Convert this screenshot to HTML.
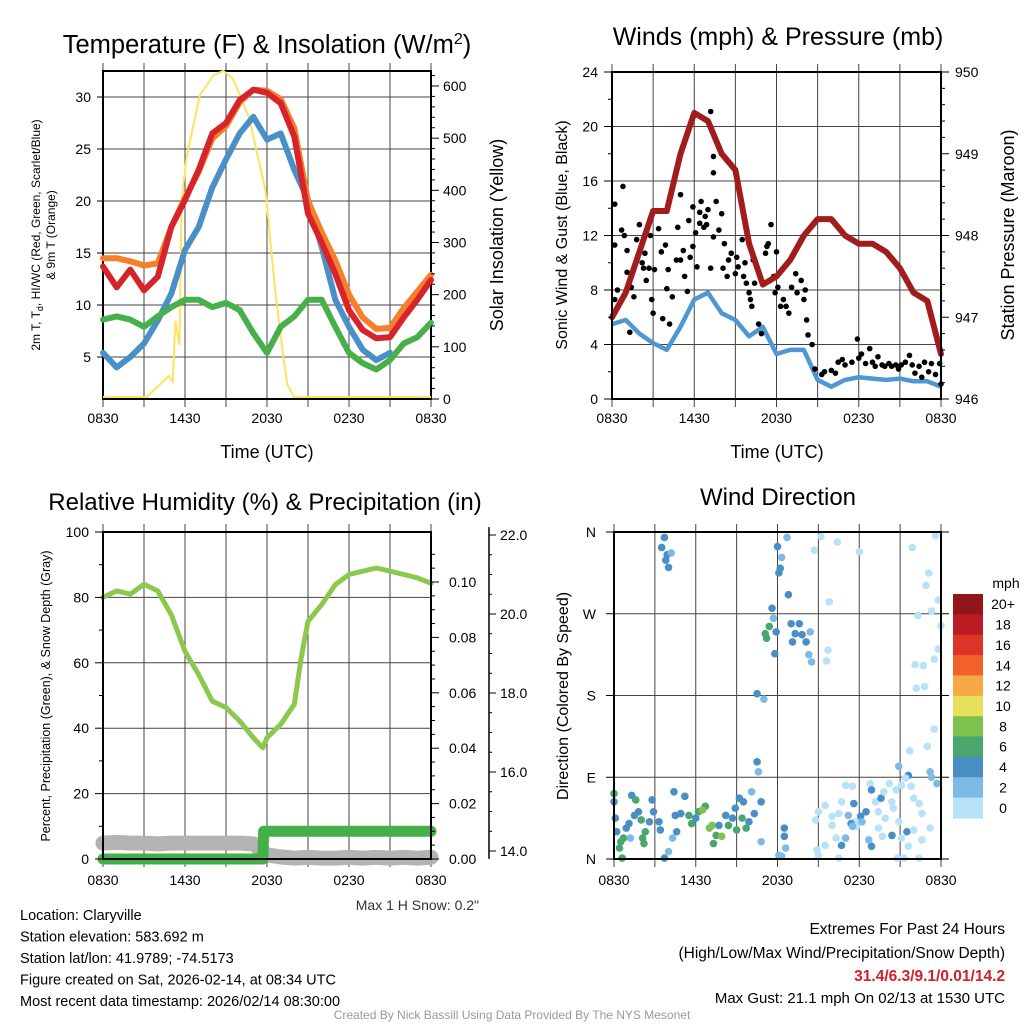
<!DOCTYPE html>
<html><head><meta charset="utf-8">
<style>
html,body{margin:0;padding:0;background:#fff;}
svg{display:block;font-family:"Liberation Sans",sans-serif;}
</style></head>
<body>
<svg id="c" width="1024" height="1024" viewBox="0 0 1024 1024" xmlns="http://www.w3.org/2000/svg"></svg>
<script>
// ---------- Panel 1: temperature & insolation (hourly from 0830 UTC) ----------
const hours = [0,1,2,3,4,5,6,7,8,9,10,11,12,13,14,15,16,17,18,19,20,21,22,23,24];
const timeTickLabels = ["0830","1430","2030","0230","0830"];
const timeTickHours = [0,6,12,18,24];
const temp9m = [14.5,14.5,14.2,13.8,14,17.5,20.3,22.8,26,27.2,29.5,30.7,30.6,29.8,27,20,17,14.3,11,8.8,7.7,7.8,9.7,11.3,12.9];
const temp2m = [13.7,11.7,13.4,11.4,12.7,17.5,20.1,23,26.5,27.5,29.7,30.7,30.4,29.4,26.2,18.8,16,13,9.5,7.6,6.8,6.9,8.8,10.5,12.4];
const windChill = [5.4,4,5,6.3,8.5,11.1,15.3,17.5,21.3,24,26.5,28.1,25.9,26.5,23,20.1,15.6,10.5,7.9,5.7,4.7,5.4];
const dewPoint = [8.6,8.9,8.6,7.9,8.9,9.8,10.5,10.5,9.8,10.2,9.5,7.3,5.4,7.9,8.9,10.5,10.5,7.9,5.4,4.4,3.8,4.7,6.3,6.9,8.3];
const solarHours = [0,3.2,4,4.8,5.1,5.3,5.6,5.75,6.1,7.1,8.1,8.8,9.5,10.7,11.9,12.6,13.2,13.5,14,24];
const solarVals = [0,0,20,40,30,146,100,376,458,579,617,625,611,535,395,203,75,23,0,0];
const tempTicks = [5,10,15,20,25,30];
const solarTicks = [0,100,200,300,400,500,600];
// ---------- Panel 2: winds & pressure ----------
const pressure = [947.0,947.3,947.8,948.3,948.3,949.0,949.5,949.4,949.0,948.8,947.9,947.4,947.5,947.7,948.0,948.2,948.2,948.0,947.9,947.9,947.8,947.6,947.3,947.2,946.55];
const sonicWind = [5.5,5.8,4.8,4.1,3.6,5.3,7.3,7.8,6.3,5.8,4.6,5.3,3.3,3.6,3.6,1.4,0.9,1.4,1.6,1.5,1.4,1.5,1.3,1.3,0.9];
const gustHours = [0.2,0.2,0.4,0.2,0.8,0.7,0.9,1.1,1.1,1.4,1.6,1.3,1.8,2.0,2.2,2.3,2.5,2.7,2.4,2.8,2.9,3.0,3.1,3.4,3.6,3.7,3.9,4.0,4.1,4.2,4.4,4.7,4.8,5.0,5.0,5.2,5.3,5.5,5.6,5.7,5.9,5.9,6.1,6.2,6.4,6.4,6.5,6.7,6.8,6.9,7.0,7.2,7.2,7.4,7.4,7.4,7.6,7.8,8.0,8.1,8.2,8.4,8.5,8.7,9.0,9.1,9.2,9.5,9.6,9.7,9.8,10.0,10.1,10.2,10.3,10.4,10.7,10.9,11.2,11.3,11.4,11.6,11.8,11.9,12.0,12.1,12.3,12.5,12.7,12.9,13.1,13.4,13.5,13.8,14.0,14.1,14.2,14.3,14.6,14.8,15.3,15.5,16.0,16.3,16.5,16.8,17.0,17.5,17.9,18.0,18.2,18.5,18.8,19.0,19.2,19.4,19.7,19.9,20.2,20.4,20.7,20.9,21.1,21.4,21.7,21.9,22.1,22.4,22.6,22.8,23.1,23.3,23.6,23.9,24.0];
const gustVals = [14.3,11.3,8.0,7.3,15.6,12.4,12.0,10.9,9.3,8.2,7.5,4.9,11.7,12.8,10.0,9.6,8.7,9.6,10.7,12.0,7.3,6.3,9.5,12.5,10.8,5.9,11.3,8.1,9.5,5.5,7.5,10.2,12.6,15.0,10.2,10.9,9.0,7.9,13.1,10.4,11.2,14.1,12.2,9.7,12.9,13.7,14.5,12.6,13.4,12.8,13.9,21.1,9.6,17.8,16.6,11.9,14.5,12.4,13.6,9.6,11.4,9.0,10.2,10.7,9.2,10.4,9.7,11.7,9.0,10.0,8.5,7.8,7.3,6.8,10.2,8.5,5.5,4.8,10.7,11.2,11.4,12.8,9.0,7.8,10.8,8.2,6.8,7.3,6.8,6.3,8.2,9.2,7.8,8.7,7.3,8.0,5.8,4.7,4.0,2.2,1.8,2.0,2.1,1.9,2.7,2.9,2.5,2.7,4.4,3.0,3.3,2.6,3.7,2.7,2.4,3.1,2.5,2.4,2.6,2.4,2.5,2.2,2.5,2.7,3.2,2.5,1.9,2.4,1.6,2.7,2.0,2.6,1.8,2.6,1.1];
const windTicks = [0,4,8,12,16,20,24];
const pressTicks = [946,947,948,949,950];
// ---------- Panel 3: RH, precip, snow ----------
const rhHours = [0,1,2,3,4,5,6,7,8,9,10,11,11.7,12,13,14,14.5,15,16,17,18,19,20,21,22,23,24];
const rhVals = [80,82,81,84,82,74.7,63.5,56.4,48.3,46.3,42.2,37.1,34,37.1,41.2,47.3,61.5,72.7,77.8,83.9,87,88,89,88,87,86,84.3];
const precipHours = [0,11.7,11.75,24];
const precipVals = [0,0,0.01,0.01];
const snowVals = [14.2,14.22,14.2,14.2,14.18,14.2,14.2,14.2,14.2,14.2,14.2,14.18,13.9,13.85,13.82,13.84,13.82,13.82,13.84,13.82,13.84,13.82,13.84,13.82,13.84];
const rhTicks = [0,20,40,60,80,100];
const precipTicks = [0,0.02,0.04,0.06,0.08,0.10];
const snowTicks = [14,16,18,20,22];
// ---------- Panel 4: wind direction ----------
const dirHours = [0,0,0.1,0.2,0.5,0.6,0.4,0.7,1.3,1.6,1.8,0.9,1.2,2.1,2.2,2.8,2.9,3.3,3.4,2.6,2.3,2.0,4.4,5.2,4.5,4.9,4.3,4.0,3.7,4.6,1.5,1.1,
5.5,6.0,6.2,6.7,6.5,7.0,7.2,7.5,7.9,7.3,8.2,8.4,8.7,8.9,9.0,9.2,9.5,9.7,9.9,10.3,10.1,10.8,10.8,5.7,7.7,9.4,
10.5,10.6,10.5,11.0,11.6,11.7,11.4,11.1,11.2,11.9,11.8,12.0,12.1,12.2,12.3,12.7,12.8,13.0,13.6,13.3,14.1,14.3,14.5,13.1,14.4,13.8,12.5,12.5,12.6,12.1,12.3,
3.7,3.5,3.9,3.8,4.0,4.2,
15.2,16.4,14.7,18.0,15.8,15.7,15.6,21.9,23.6,23.1,22.9,23.8,23.3,22.3,24,23.8,23.5,22.1,22.7,22.2,22.8,23.5,21.7,23.0,20.9,21.6,23.2,23.3,23.7,
14.8,15.0,15.5,16.0,16.5,17.0,17.5,16.7,17.2,17.6,17.7,18.1,18.5,18.8,18.9,19.2,19.4,19.6,19.8,19.9,20.2,20.4,20.5,20.7,20.9,21.1,21.4,21.8,22.0,22.4,22.6,19.4,19.7,20.4,21.1,21.5,22.0,22.6,23.2,18.9,18.7,16.7,17.0,16.3,15.5,14.9,15.0,16.5,20.8,21.3,22.4,21.6,17.8,17.4,17.5,18.2,16.0];
const dirDegrees = [72,63,45,30,19,1,12,23,70,65,52,34,23,23,17,65,52,41,32,41,30,43,74,69,48,50,23,8,1,30,48,39,
48,45,52,58,54,34,37,26,25,17,48,37,45,56,32,67,63,34,41,50,74,63,19,39,37,45,
107,96,182,176,276,265,256,248,243,250,226,344,315,320,332,354,291,259,259,248,239,225,217,239,250,247,34,25,12,4,3,
354,343,335,329,321,337,
355,349,340,338,283,230,218,343,356,315,301,285,273,268,257,231,220,214,213,188,190,143,119,124,102,92,96,90,83,
43,52,59,47,50,81,80,63,48,61,41,47,52,83,76,63,52,67,74,45,83,63,56,76,41,81,89,80,67,61,50,34,25,26,23,30,32,21,34,14,21,15,23,23,15,10,4,1,1,1,1,14,36,39,36,41,37];
const dirSpeeds = [6,4,4,4,6,6,6,6,4,6,4,4,2,6,6,4,4,4,4,4,6,6,4,4,4,4,2,2,4,4,4,4,
6,4,6,6,8,8,8,6,8,6,4,6,4,4,6,4,4,6,4,4,2,4,2,6,4,6,
4,2,4,2,4,2,6,6,6,4,4,4,4,4,2,2,4,4,4,4,4,2,2,4,2,4,4,4,2,2,2,
4,4,4,4,4,2,
0,0,0,0,0,0,0,0,0,0,0,0,0,0,0,0,0,0,0,0,0,0,0,0,2,4,2,2,2,
0,0,0,0,0,0,0,0,2,4,0,4,4,0,4,0,0,4,0,0,0,0,0,0,0,0,0,0,0,0,0,0,0,4,0,4,0,0,0,4,2,4,2,0,0,0,0,0,0,0,0,0,0,4,2,2,0];
const dirTickLabels = ["N","E","S","W","N"];
const dirTickDegrees = [0,90,180,270,360];
const speedLegendLabels = ["20+","18","16","14","12","10","8","6","4","2","0"];
const speedLegendColors = ["#921519","#bb1b23","#dc3528","#f0622a","#f6a845","#e6e05a","#7dc24c","#49a76e","#4a8ec6","#7dbae6","#b8e2f8"];

const NS="http://www.w3.org/2000/svg";
const svg=document.getElementById('c');
function mk(tag,attrs,parent){const e=document.createElementNS(NS,tag);for(const k in attrs)e.setAttribute(k,attrs[k]);(parent||svg).appendChild(e);return e;}
function txt(x,y,s,size,anchor,parent,extra){const t=mk('text',Object.assign({x:x,y:y,'font-size':size,'text-anchor':anchor||'middle',fill:'#000'},extra||{}),parent);t.textContent=s;return t;}
function pathFrom(xs,ys,fx,fy){let d='';for(let i=0;i<ys.length;i++){d+=(i?'L':'M')+fx(xs[i]).toFixed(1)+' '+fy(ys[i]).toFixed(1);}return d;}

function frame(g,L,T,R,B,hGrid,vGridHours){
  vGridHours.forEach(h=>{const x=L+h*(R-L)/24;const gl=mk('line',{x1:x,y1:T-8,x2:x,y2:B+8,stroke:'#444','stroke-width':1},g);});
  hGrid.forEach(y=>{const gl=mk('line',{x1:L,y1:y,x2:R,y2:y,stroke:'#444','stroke-width':1},g);});
}
function border(g,L,T,R,B){const r=mk('rect',{x:L,y:T,width:R-L,height:B-T,fill:'none',stroke:'#000','stroke-width':2},g);}
function xLabels(g,L,R,B,off){timeTickHours.forEach((h,i)=>{const t=txt(L+h*(R-L)/24,B+off,timeTickLabels[i],14,'middle',g);});}
const grid3=[0,3,6,9,12,15,18,21,24];

// ===== Panel 1 =====
(function(){
  const L=103,T=71,R=431,B=399;
  const g=mk('g',{});
  const x=h=>L+h*(R-L)/24, yT=v=>357-(v-5)*10.4, yS=w=>B-2-w*0.5217;
  frame(g,L,T,R,B,tempTicks.map(yT),grid3);
  border(g,L,T,R,B);
  const sl=mk('path',{d:pathFrom(solarHours,solarVals,x,yS),fill:'none',stroke:'#fde35e','stroke-width':2},g);
  const series=[[windChill,'#4a90c8','wind-chill-line'],[dewPoint,'#47b04a','dew-point-line'],[temp9m,'#f57f2a','temp-9m-line'],[temp2m,'#d7242a','temp-2m-line']];
  series.forEach(s=>{const p=mk('path',{d:pathFrom(hours,s[0],x,yT),fill:'none',stroke:s[1],'stroke-width':6,'stroke-linejoin':'round','stroke-linecap':'round'},g);});
  tempTicks.forEach(v=>{mk('line',{x1:L-6,y1:yT(v),x2:L,y2:yT(v),stroke:'#000'},g);const t=txt(L-12,yT(v)+5,String(v),14,'end',g);});
  for(let w=0;w<=620;w+=20){mk('line',{x1:R,y1:B-w*0.5217,x2:R+(w%100?4:8),y2:B-w*0.5217,stroke:'#000'},g);}
  solarTicks.forEach(v=>{const t=txt(R+12,B-v*0.5217+5,String(v),14,'start',g);});
  xLabels(g,L,R,B,24);
  let t=txt(267,53,'',25.5,'middle',g);t.innerHTML='Temperature (F) &amp; Insolation (W/m<tspan dy="-9" font-size="16">2</tspan><tspan dy="9">)</tspan>';
  t=txt(267,458,'Time (UTC)',18,'middle',g);
  t=txt(0,0,'',12,'middle',g,{transform:'translate(40,235) rotate(-90)'});t.innerHTML='2m T, T<tspan dy="3" font-size="9">d</tspan><tspan dy="-3">, HI/WC (Red, Green, Scarlet/Blue)</tspan>';
  t=txt(0,0,'& 9m T (Orange)',12,'middle',g,{transform:'translate(55,235) rotate(-90)'});
  t=txt(0,0,'Solar Insolation (Yellow)',18,'middle',g,{transform:'translate(503,235) rotate(-90)'});
})();

// ===== Panel 2 =====
(function(){
  const L=612,T=72,R=941,B=399;
  const g=mk('g',{});
  const x=h=>L+h*(R-L)/24, yW=v=>B-v*(B-T)/24, yP=p=>B-(p-946)*(B-T)/4;
  frame(g,L,T,R,B,windTicks.slice(1,-1).map(yW),grid3);
  const wl=mk('path',{d:pathFrom(hours,sonicWind,x,yW),fill:'none',stroke:'#4f97d2','stroke-width':4.5,'stroke-linejoin':'round'},g);
  for(let i=0;i<gustVals.length;i++){const c=mk('circle',{cx:x(gustHours[i]),cy:yW(gustVals[i]),r:2.8,fill:'#000'},g);}
  const pl=mk('path',{d:pathFrom(hours,pressure,x,yP),fill:'none',stroke:'#a11d1d','stroke-width':6,'stroke-linejoin':'round','stroke-linecap':'round'},g);
  border(g,L,T,R,B);
  for(let v=0;v<=24;v+=2){mk('line',{x1:L-(v%4?4:8),y1:yW(v),x2:L,y2:yW(v),stroke:'#000'},g);}
  windTicks.forEach(v=>{const t=txt(L-14,yW(v)+5,String(v),14,'end',g);});
  for(let p=946;p<=950.001;p+=0.2){mk('line',{x1:R,y1:yP(p),x2:R+(Math.abs(p-Math.round(p))<0.01?8:4),y2:yP(p),stroke:'#000'},g);}
  pressTicks.forEach(v=>{const t=txt(R+14,yP(v)+5,String(v),14,'start',g);});
  xLabels(g,L,R,B,24);
  let t=txt(778,45,'Winds (mph) & Pressure (mb)',25,'middle',g);
  t=txt(777,458,'Time (UTC)',18,'middle',g);
  t=txt(0,0,'Sonic Wind & Gust (Blue, Black)',16,'middle',g,{transform:'translate(567,235) rotate(-90)'});
  t=txt(0,0,'Station Pressure (Maroon)',18,'middle',g,{transform:'translate(1014,235) rotate(-90)'});
})();

// ===== Panel 3 =====
(function(){
  const L=103,T=532,R=431,B=859;
  const g=mk('g',{});
  const x=h=>L+h*(R-L)/24, yR=v=>B-v*(B-T)/100, yPr=v=>B-v*2770, yS=v=>851-(v-14)*39.5;
  frame(g,L,T,R,B,[20,40,60,80].map(yR),grid3);
  const sn=mk('path',{d:pathFrom(hours,snowVals,x,yS),fill:'none',stroke:'#b3b3b3','stroke-width':15,'stroke-linejoin':'round','stroke-linecap':'round'},g);
  const pr=mk('path',{d:pathFrom(precipHours,precipVals,x,yPr),fill:'none',stroke:'#46b048','stroke-width':11,'stroke-linejoin':'round','stroke-linecap':'round'},g);
  const rl=mk('path',{d:pathFrom(rhHours,rhVals,x,yR),fill:'none',stroke:'#8cc84b','stroke-width':5,'stroke-linejoin':'round','stroke-linecap':'round'},g);
  border(g,L,T,R,B);
  for(let v=0;v<=100;v+=10){mk('line',{x1:L-(v%20?4:8),y1:yR(v),x2:L,y2:yR(v),stroke:'#000'},g);}
  rhTicks.forEach(v=>{const t=txt(L-14,yR(v)+5,String(v),14,'end',g);});
  for(let v=0;v<=0.1101;v+=0.005){mk('line',{x1:R,y1:yPr(v),x2:R+(Math.round(v*1000)%20?4:8),y2:yPr(v),stroke:'#000'},g);}
  precipTicks.forEach(v=>{const t=txt(R+18,yPr(v)+5,v.toFixed(2),14,'start',g);});
  mk('line',{x1:489,y1:yS(22.2),x2:489,y2:yS(13.8),stroke:'#000','stroke-width':1.5},g);
  for(let v=14;v<=22.01;v+=0.5){mk('line',{x1:489,y1:yS(v),x2:489+(Math.round(v*2)%4?3:7),y2:yS(v),stroke:'#000'},g);}
  snowTicks.forEach(v=>{const t=txt(500,yS(v)+5,v.toFixed(1),14,'start',g);});
  xLabels(g,L,R,B,26);
  let t=txt(265,510,'Relative Humidity (%) & Precipitation (in)',24,'middle',g);
  t=txt(0,0,'Percent, Precipitation (Green), & Snow Depth (Gray)',12.5,'middle',g,{transform:'translate(50,696) rotate(-90)'});
  t=txt(479,910,'Max 1 H Snow: 0.2"',14,'end',g,{fill:'#333'});
})();

// ===== Panel 4 =====
(function(){
  const L=614,T=532,R=941,B=859;
  const g=mk('g',{});
  const x=h=>L+h*(R-L)/24, yD=d=>B-d*(B-T)/360;
  frame(g,L,T,R,B,[90,180,270].map(yD),grid3);
  function col(s){const idx=Math.min(10,Math.floor(s/2));return speedLegendColors[10-idx];}
  for(let i=0;i<dirDegrees.length;i++){const c=mk('circle',{cx:x(dirHours[i]),cy:yD(dirDegrees[i]),r:3.8,fill:col(dirSpeeds[i])},g);}
  border(g,L,T,R,B);
  dirTickDegrees.forEach((d,i)=>{mk('line',{x1:L-8,y1:yD(d),x2:L,y2:yD(d),stroke:'#000'},g);mk('line',{x1:R,y1:yD(d),x2:R+8,y2:yD(d),stroke:'#000'},g);const t=txt(L-18,yD(d)+5,dirTickLabels[i],14,'end',g);});
  xLabels(g,L,R,B,26);
  let t=txt(778,505,'Wind Direction',24,'middle',g);
  t=txt(0,0,'Direction (Colored By Speed)',16,'middle',g,{transform:'translate(568,696) rotate(-90)'});
  const lg=mk('g',{},g);
  const segH=224/11;
  speedLegendColors.forEach((c,i)=>{const r=mk('rect',{x:953,y:594+i*segH,width:30,height:segH+0.5,fill:c},lg);
    const tt=txt(1003,594+i*segH+segH/2+5,speedLegendLabels[i],14,'middle',lg);});
  t=txt(1006,588,'mph',14,'middle',lg);
})();

// ===== Footer text =====
(function(){
  const g=mk('g',{});
  const lines=['Location: Claryville','Station elevation: 583.692 m','Station lat/lon: 41.9789; -74.5173','Figure created on Sat, 2026-02-14, at 08:34 UTC','Most recent data timestamp: 2026/02/14 08:30:00'];
  lines.forEach((s,i)=>{const t=txt(20,920+i*21.5,s,14.5,'start',g);});
  const g2=mk('g',{});
  let t=txt(1005,934,'Extremes For Past 24 Hours',15.5,'end',g2);
  t=txt(1005,958,'(High/Low/Max Wind/Precipitation/Snow Depth)',15.5,'end',g2);
  t=txt(1005,981,'31.4/6.3/9.1/0.01/14.2',15.5,'end',g2,{fill:'#d0202a','font-weight':'bold'});
  t=txt(1005,1003,'Max Gust: 21.1 mph On 02/13 at 1530 UTC',15,'end',g2);
  t=txt(512,1019,'Created By Nick Bassill Using Data Provided By The NYS Mesonet',12,'middle',null,{fill:'#999'});
})();
</script>
</body></html>
